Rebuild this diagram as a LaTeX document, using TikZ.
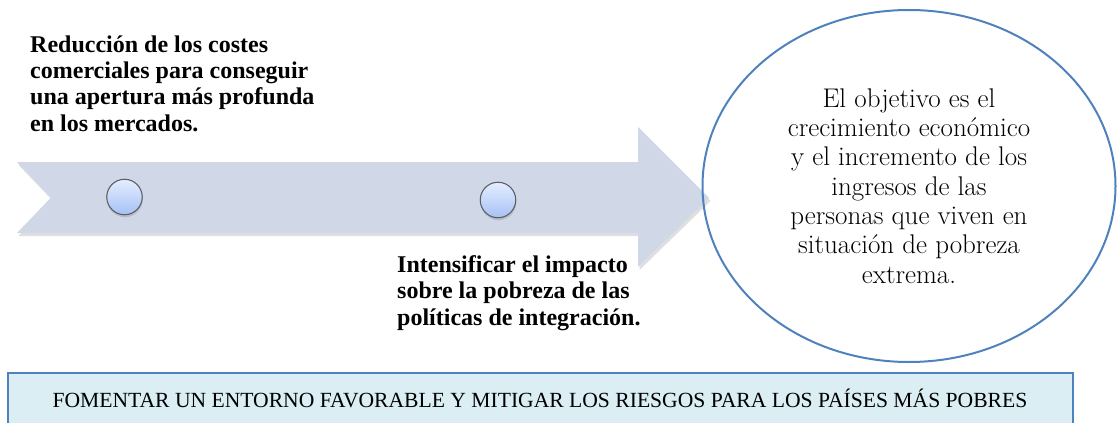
\documentclass[tikz,border=0pt]{standalone}
\usepackage{fontspec}
\newfontfamily\tnr{Liberation Serif}
\usetikzlibrary{shapes.geometric,shadows}
\definecolor{arrowfill}{HTML}{D0D8E8}
\definecolor{dotTop}{HTML}{E4EDFF}
\definecolor{dotBot}{HTML}{A6C1F5}
\definecolor{dotEdge}{HTML}{5E6066}
\definecolor{goalEdge}{HTML}{4F81BD}
\definecolor{boxFill}{HTML}{DAEEF3}
\tikzset{
  band/.style={fill=arrowfill, draw=none, drop shadow={shadow xshift=1.5pt, shadow yshift=-3pt, opacity=0.25}},
  dot/.style={circle, minimum size=35.5pt, inner sep=0pt, top color=dotTop, bottom color=dotBot, draw=dotEdge, line width=1.1pt, drop shadow={shadow xshift=0.5pt, shadow yshift=-2.5pt, opacity=0.3}},
  steptext/.style={font=\tnr\bfseries\fontsize{24}{26.2}\selectfont, align=left, inner sep=0pt},
  goal/.style={ellipse, draw=goalEdge, line width=2pt, minimum width=413pt, minimum height=352pt, inner sep=0pt, align=center, font=\fontsize{27}{29.3}\selectfont},
  basebox/.style={draw=goalEdge, line width=1.5pt, fill=boxFill},
}
\begin{document}
\begin{tikzpicture}[x=1pt,y=-1pt]
\useasboundingbox (0,0) rectangle (1117,423);
% arrow band
\path[band] (17,162) -- (638,162) -- (638,127) -- (709,198) -- (638,267) -- (638,233) -- (17,233) -- (51,197.5) -- cycle;
\node[dot] (d1) at (124.5,197) {};
\node[dot] (d2) at (498,200) {};
% texts (base anchor = last line baseline)
\node[steptext, anchor=base west] (t1) at (30,131) {Reducción de los costes\\comerciales para conseguir\\una apertura más profunda\\en los mercados.};
\node[steptext, anchor=base west] (t2) at (397,325) {Intensificar el impacto\\sobre la pobreza de las\\políticas de integración.};
% goal ellipse
\node[goal] (g) at (909,186) {El objetivo es el\\crecimiento económico\\y el incremento de los\\ingresos de las\\personas que viven en\\situación de pobreza\\extrema.};
% bottom box
\path[basebox] (8,373) rectangle (1073,432);
\node[font=\tnr\fontsize{21.6}{24}\selectfont, inner sep=0pt] (b) at (540,398.5) {FOMENTAR UN ENTORNO FAVORABLE Y MITIGAR LOS RIESGOS PARA LOS PAÍSES MÁS POBRES};
\end{tikzpicture}
\end{document}
